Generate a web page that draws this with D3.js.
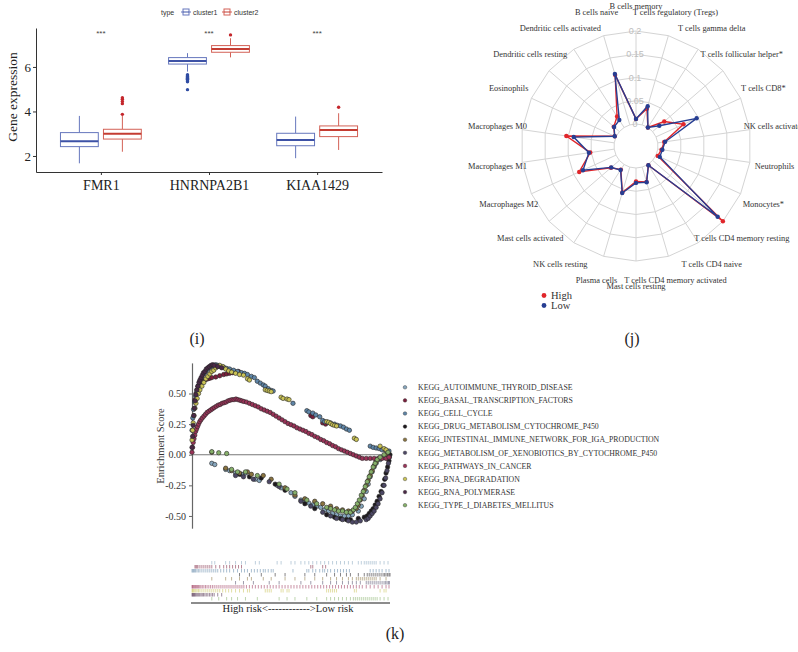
<!DOCTYPE html>
<html><head><meta charset="utf-8">
<script src="https://cdn.jsdelivr.net/npm/d3@7"></script>
<style>body{margin:0;background:#fff}svg{display:block}</style>
</head><body><svg id="fig" width="798" height="652"></svg>
<script>
// ---------- (i) boxplot data ----------
const genes = ["FMR1", "HNRNPA2B1", "KIAA1429"];
const clusters = ["cluster1", "cluster2"];
const c1Low = [1.67, 5.79, 1.90], c1Q1 = [2.42, 6.13, 2.46], c1Med = [2.66, 6.27, 2.72], c1Q3 = [3.05, 6.42, 3.02], c1High = [3.80, 6.62, 3.77];
const c2Low = [2.19, 6.43, 2.27], c2Q1 = [2.76, 6.66, 2.87], c2Med = [3.00, 6.81, 3.17], c2Q3 = [3.20, 6.96, 3.35], c2High = [3.80, 7.29, 3.92];
const c1Outliers = [[], [5.65, 5.61, 5.57, 5.53, 5.49, 5.45, 5.41, 5.37, 5.33, 4.98], []];
const c2Outliers = [[3.87, 4.35, 4.45, 4.55, 4.62], [7.44], [4.19]];
const sigLabels = ["***", "***", "***"];
const boxYTicks = [2, 4, 6];

// ---------- (j) radar data ----------
const cellTypes = ["B cells memory", "B cells naive", "Dendritic cells activated", "Dendritic cells resting", "Eosinophils",
  "Macrophages M0", "Macrophages M1", "Macrophages M2", "Mast cells activated", "NK cells resting", "Plasma cells",
  "Mast cells resting", "T cells CD4 memory activated", "T cells CD4 naive", "T cells CD4 memory resting", "Monocytes*",
  "Neutrophils", "NK cells activated", "T cells CD8*", "T cells follicular helper*", "T cells gamma delta", "T cells regulatory (Tregs)"];
const highRisk = [0.011, 0.112, 0.028, 0.016, 0.003, 0.104, 0.052, 0.087, 0.024, 0.013, 0.057, 0.029, 0.033, 0.002, 0.200, 0.004, 0.008, 0.014, 0.065, 0.033, 0.000, 0.036];
const lowRisk  = [0.011, 0.114, 0.019, 0.015, 0.003, 0.088, 0.055, 0.078, 0.023, 0.014, 0.058, 0.032, 0.034, 0.002, 0.185, 0.009, 0.010, 0.016, 0.096, 0.019, 0.000, 0.042];
const radarLevels = [0, 0.05, 0.1, 0.15, 0.2];
const radarLevelLabels = ["0", "0.05", "0.1", "0.15", "0.2"];

// ---------- (k) GSEA running enrichment scores: [rank %, ES] ----------
const pathways = ["KEGG_AUTOIMMUNE_THYROID_DISEASE", "KEGG_BASAL_TRANSCRIPTION_FACTORS", "KEGG_CELL_CYCLE",
  "KEGG_DRUG_METABOLISM_CYTOCHROME_P450", "KEGG_INTESTINAL_IMMUNE_NETWORK_FOR_IGA_PRODUCTION",
  "KEGG_METABOLISM_OF_XENOBIOTICS_BY_CYTOCHROME_P450", "KEGG_PATHWAYS_IN_CANCER", "KEGG_RNA_DEGRADATION",
  "KEGG_RNA_POLYMERASE", "KEGG_TYPE_I_DIABETES_MELLITUS"];
const pathwayColors = ["#86a6bd", "#7b1f3c", "#5f86a8", "#1e1a1e", "#8a7440", "#4d4866", "#9a3358", "#c9c255", "#4a2846", "#86b06a"];

const esAutoimmune = [[10,-0.07],[11.5,-0.08],[17,-0.12],[19,-0.13],[22,-0.15],[25,-0.16],[27,-0.15],[32,-0.2],[34,-0.21],[43,-0.25],[45,-0.27],[50,-0.31],[52,-0.34],[55,-0.37],[57,-0.38],[59,-0.395],[61,-0.41],[63,-0.42],[65,-0.43],[67,-0.45],[69,-0.46],[71,-0.48],[73,-0.49],[75,-0.5],[77,-0.5],[79,-0.5],[81,-0.49],[84,-0.46],[85.5,-0.42],[87,-0.36],[88,-0.3],[89,-0.24],[90,-0.18],[91,-0.14],[92,-0.1],[93,-0.07],[95,-0.04],[97,-0.02],[99,-0.01]];
const esBasal = [[1.5,0.45],[2,0.5],[2.5,0.53],[3,0.56],[4,0.58],[5,0.6],[6,0.61],[7,0.615],[8,0.62],[9,0.625],[10,0.63],[12,0.635],[14,0.645],[16,0.655],[17.5,0.66],[19,0.665],[20.5,0.67],[22,0.675],[23.5,0.68],[25,0.665],[60,0.32],[61,0.31],[66,0.26],[67.5,0.25]];
const esCellCycle = [[0,0.2],[0.4,0.3],[0.8,0.37],[1.3,0.43],[1.8,0.48],[2.5,0.52],[3.2,0.56],[4,0.6],[5,0.63],[6,0.66],[7,0.68],[8,0.7],[9,0.715],[10,0.725],[11,0.73],[12,0.735],[13,0.73],[14.5,0.72],[16,0.715],[17.5,0.705],[19,0.7],[21,0.69],[23,0.68],[25,0.67],[26.5,0.665],[28,0.655],[30,0.64],[31.5,0.63],[33,0.6],[34.5,0.585],[36,0.57],[37,0.56],[38.5,0.54],[40,0.525],[41,0.52],[51,0.42],[58,0.36],[59,0.35],[61,0.34],[62.5,0.325],[64.5,0.31],[66,0.28],[67,0.27],[68.5,0.265],[70,0.26],[72,0.25],[73.5,0.24],[75,0.235],[76.5,0.225],[78,0.21],[79.5,0.2],[90,0.07],[91.5,0.06],[93,0.055],[94.5,0.05],[96,0.04],[98,0.035],[99.5,0.03]];
const esDrugMetab = [[24,-0.16],[29,-0.18],[35,-0.19],[42,-0.24],[47,-0.29],[57,-0.4],[62,-0.44],[68,-0.49],[72,-0.51],[75,-0.52],[78,-0.53],[80,-0.53],[84,-0.52],[87,-0.51],[88.5,-0.5],[89.5,-0.48],[90.5,-0.46],[91.5,-0.44],[92.5,-0.41],[93.5,-0.38],[94.5,-0.34],[95.5,-0.3],[96.5,-0.25],[97.3,-0.2],[98,-0.15],[98.8,-0.1],[99.5,-0.05],[100,0]];
const esIntestinal = [[10,0.02],[17,-0.11],[20,-0.13],[24,-0.15],[28,-0.14],[30,-0.16],[36,-0.17],[40,-0.2],[47,-0.27],[52,-0.33],[57,-0.36],[62,-0.38],[66,-0.4],[70,-0.42],[73,-0.44],[76,-0.45],[79,-0.46],[81,-0.46],[83,-0.44],[84,-0.41],[85,-0.37],[86,-0.33],[87,-0.29],[88,-0.25],[89,-0.21],[90,-0.17],[91,-0.13],[92,-0.09],[93,-0.06],[95,-0.03],[98,0.0]];
const esXenobiotics = [[22,-0.17],[26,-0.18],[31,-0.2],[39,-0.22],[44,-0.26],[55,-0.38],[60,-0.42],[66,-0.47],[70,-0.5],[73,-0.52],[76,-0.53],[79,-0.54],[81,-0.55],[83,-0.55],[85,-0.54],[88,-0.53],[89,-0.52],[90,-0.5],[91,-0.48],[92,-0.46],[93,-0.43],[94,-0.4],[95,-0.36],[96,-0.31],[97,-0.25],[97.8,-0.19],[98.5,-0.13],[99.2,-0.07],[99.7,-0.02]];
const esCancer = [[0,0.02],[0.3,0.06],[0.6,0.1],[1,0.13],[1.4,0.16],[1.8,0.19],[2.3,0.21],[2.8,0.23],[3.3,0.25],[3.9,0.27],[4.5,0.285],[5.2,0.3],[6,0.315],[6.8,0.33],[7.6,0.345],[8.5,0.355],[9.4,0.365],[10.3,0.375],[11.2,0.385],[12.2,0.395],[13.2,0.405],[14.2,0.41],[15.2,0.42],[16.2,0.425],[17.2,0.43],[18.2,0.44],[19.2,0.445],[20.2,0.45],[21.2,0.45],[22.2,0.455],[23.2,0.45],[24.2,0.445],[25.2,0.44],[26.2,0.435],[27.5,0.43],[29,0.42],[30.5,0.41],[32,0.4],[33.5,0.39],[35,0.375],[36.5,0.365],[38,0.355],[39.5,0.345],[41,0.33],[42.5,0.315],[44,0.3],[45.5,0.285],[47,0.27],[48.5,0.255],[50,0.245],[51.5,0.235],[53,0.22],[54.5,0.21],[56,0.2],[57.5,0.19],[59,0.175],[60.5,0.165],[62,0.15],[63.5,0.14],[65,0.125],[66.5,0.115],[68,0.1],[69.5,0.09],[71,0.075],[72.5,0.065],[74,0.05],[75.5,0.04],[77,0.03],[78.5,0.02],[80,0.01],[81.5,0.0],[83,-0.01],[84.5,-0.02],[86,-0.03],[88,-0.03],[90,-0.03],[92,-0.03],[94,-0.03],[96,-0.03],[98,-0.03],[99.5,-0.02]];
const esRnaDegradation = [[0,0.12],[0.3,0.2],[0.6,0.26],[1,0.32],[1.5,0.38],[2,0.42],[2.6,0.46],[3.3,0.5],[4,0.53],[5,0.56],[6,0.59],[7,0.62],[8,0.64],[9,0.66],[10,0.68],[11,0.69],[12,0.71],[13,0.72],[14,0.73],[15.5,0.72],[17,0.7],[18.5,0.685],[20,0.675],[22,0.665],[24,0.655],[26,0.65],[28,0.62],[29,0.61],[37,0.53],[38,0.525],[39,0.52],[40,0.515],[45,0.47],[46,0.46],[48,0.455],[49,0.45],[68,0.27],[69,0.265],[70,0.255],[71,0.245],[72,0.24],[73,0.235],[82,0.135],[83,0.125],[95,0.07],[97,0.05],[98,0.04]];
const esRnaPolymerase = [[0,0.06],[0.3,0.15],[0.6,0.24],[0.9,0.32],[1.2,0.38],[1.6,0.44],[2,0.49],[2.5,0.53],[3,0.56],[3.5,0.59],[4,0.61],[4.6,0.63],[5.2,0.65],[5.8,0.67],[6.5,0.68],[7.2,0.7],[8,0.71],[8.8,0.72],[9.6,0.73],[10.4,0.735],[11.2,0.73],[13,0.72],[15,0.71]];
const esDiabetes = [[10,0.025],[13.5,0.016],[17.5,0.01],[20,-0.12],[23,-0.14],[27,-0.14],[33,-0.17],[44,-0.24],[48,-0.28],[52,-0.31],[58,-0.37],[63,-0.4],[68,-0.43],[70,-0.44],[72,-0.45],[74,-0.46],[76,-0.46],[78,-0.47],[80,-0.47],[81.5,-0.45],[82.5,-0.43],[83.5,-0.4],[84.5,-0.37],[85.5,-0.33],[86.5,-0.3],[87.5,-0.26],[88.5,-0.22],[89.5,-0.18],[90.5,-0.14],[91.5,-0.1],[92.5,-0.07],[93.5,-0.04],[95,-0.02],[97,0.0],[99,0.02]];
const esSeries = [esAutoimmune, esBasal, esCellCycle, esDrugMetab, esIntestinal, esXenobiotics, esCancer, esRnaDegradation, esRnaPolymerase, esDiabetes];
const esTicks = [-0.5, -0.25, 0, 0.25, 0.5];

const svg = d3.select("#fig");
const serif = "'Liberation Serif', 'Times New Roman', serif";
const sans = "'Liberation Sans', Arial, sans-serif";

// ================= (i) grouped boxplot =================
(function () {
  const g = svg.append("g");
  const x = d3.scalePoint().domain(genes).range([36, 382]).padding(0.6);
  const sub = d3.scaleBand().domain(clusters).range([-43, 43]);
  const y = d3.scaleLinear().domain([1.28, 7.75]).range([172, 28]);
  const stroke = { cluster1: "#6677bd", cluster2: "#d36156" };
  const medStroke = { cluster1: "#3d52a6", cluster2: "#c43d33" };
  const dotFill = { cluster1: "#2f4ca3", cluster2: "#c4262c" };

  const stats = [];
  genes.forEach((gn, i) => {
    stats.push({ gene: gn, cl: "cluster1", lo: c1Low[i], q1: c1Q1[i], med: c1Med[i], q3: c1Q3[i], hi: c1High[i], out: c1Outliers[i] });
    stats.push({ gene: gn, cl: "cluster2", lo: c2Low[i], q1: c2Q1[i], med: c2Med[i], q3: c2Q3[i], hi: c2High[i], out: c2Outliers[i] });
  });
  const bw = sub.bandwidth() * 0.88;
  const cx = d => x(d.gene) + sub(d.cl) + sub.bandwidth() / 2;

  const bx = g.selectAll("g.box").data(stats).join("g");
  bx.append("line").attr("x1", cx).attr("x2", cx).attr("y1", d => y(d.hi)).attr("y2", d => y(d.q3))
    .attr("stroke", d => stroke[d.cl]).attr("stroke-width", 1);
  bx.append("line").attr("x1", cx).attr("x2", cx).attr("y1", d => y(d.q1)).attr("y2", d => y(d.lo))
    .attr("stroke", d => stroke[d.cl]).attr("stroke-width", 1);
  bx.append("rect").attr("x", d => cx(d) - bw / 2).attr("width", bw)
    .attr("y", d => y(d.q3)).attr("height", d => y(d.q1) - y(d.q3))
    .attr("fill", "#fff").attr("stroke", d => stroke[d.cl]).attr("stroke-width", 1);
  bx.append("line").attr("x1", d => cx(d) - bw / 2).attr("x2", d => cx(d) + bw / 2)
    .attr("y1", d => y(d.med)).attr("y2", d => y(d.med))
    .attr("stroke", d => medStroke[d.cl]).attr("stroke-width", 2);
  bx.each(function (d) {
    d3.select(this).selectAll("circle").data(d.out).join("circle")
      .attr("cx", cx(d)).attr("cy", v => y(v)).attr("r", 1.7).attr("fill", dotFill[d.cl]);
  });

  g.selectAll("text.sig").data(genes).join("text")
    .attr("x", d => x(d)).attr("y", 36).attr("text-anchor", "middle")
    .attr("font-family", sans).attr("font-size", 8).attr("fill", "#444")
    .text((d, i) => sigLabels[i]);

  const ya = g.append("g").attr("transform", "translate(36,0)")
    .call(d3.axisLeft(y).tickValues(boxYTicks).tickSize(3).tickSizeOuter(0).tickFormat(d3.format("d")));
  ya.select(".domain").attr("stroke", "#333");
  ya.selectAll(".tick line").attr("stroke", "#333");
  ya.selectAll(".tick text").attr("font-family", serif).attr("font-size", 13).attr("fill", "#222").attr("x", -5);
  const xa = g.append("g").attr("transform", "translate(0,172)")
    .call(d3.axisBottom(x).tickSize(3).tickSizeOuter(0));
  xa.select(".domain").attr("stroke", "#333");
  xa.selectAll(".tick line").attr("stroke", "#333");
  xa.selectAll(".tick text").attr("font-family", serif).attr("font-size", 14).attr("fill", "#222").attr("y", 8);

  g.append("text").attr("transform", "translate(17,97) rotate(-90)").attr("text-anchor", "middle")
    .attr("font-family", serif).attr("font-size", 13.5).attr("fill", "#222").text("Gene expression");

  // legend
  const lg = g.append("g");
  lg.append("text").attr("x", 161).attr("y", 15).attr("font-family", sans).attr("font-size", 7).attr("fill", "#333").text("type");
  const lx = [181, 222];
  clusters.forEach((c, i) => {
    const k = lg.append("g").attr("transform", `translate(${lx[i]},8)`);
    k.append("line").attr("x1", 0).attr("x2", 2).attr("y1", 4).attr("y2", 4).attr("stroke", stroke[c]);
    k.append("line").attr("x1", 8).attr("x2", 10).attr("y1", 4).attr("y2", 4).attr("stroke", stroke[c]);
    k.append("rect").attr("x", 2).attr("y", 1).attr("width", 6).attr("height", 6).attr("fill", "#fff").attr("stroke", stroke[c]);
    k.append("line").attr("x1", 2).attr("x2", 8).attr("y1", 4).attr("y2", 4).attr("stroke", medStroke[c]);
    lg.append("text").attr("x", lx[i] + 12).attr("y", 15).attr("font-family", sans).attr("font-size", 7).attr("fill", "#333").text(c);
  });
})();

// ================= (j) radar =================
(function () {
  const cx = 636, cy = 146;
  const g = svg.append("g").attr("transform", `translate(${cx},${cy})`);
  const n = cellTypes.length, step = 2 * Math.PI / n;
  const r = d3.scaleLinear().domain([0, 0.2]).range([22, 115]);
  const ang = i => -i * step;
  const ring = d3.lineRadial().angle((d, i) => ang(i)).radius(d => d).curve(d3.curveLinearClosed);

  radarLevels.forEach(lv => {
    g.append("path").attr("d", ring(cellTypes.map(() => r(lv)))).attr("fill", "none").attr("stroke", "#d4d4d4").attr("stroke-width", 1);
  });
  cellTypes.forEach((c, i) => {
    const a = ang(i);
    g.append("line").attr("x1", r(0) * Math.sin(a)).attr("y1", -r(0) * Math.cos(a))
      .attr("x2", r(0.2) * Math.sin(a)).attr("y2", -r(0.2) * Math.cos(a)).attr("stroke", "#d4d4d4");
  });
  radarLevels.forEach((lv, i) => {
    g.append("text").attr("x", -1).attr("y", -r(lv)).attr("dy", "0.35em").attr("text-anchor", "middle")
      .attr("font-family", sans).attr("font-size", 9).attr("fill", "#bdbdbd").text(radarLevelLabels[i]);
  });
  cellTypes.forEach((c, i) => {
    const a = ang(i), lr = 140;
    g.append("text").attr("x", lr * Math.sin(a)).attr("y", -lr * Math.cos(a)).attr("dy", "0.35em")
      .attr("text-anchor", "middle").attr("font-family", serif).attr("font-size", 8.4).attr("fill", "#333").text(c);
  });

  const series = [{ vals: highRisk, col: "#e0262b" }, { vals: lowRisk, col: "#273e92" }];
  const line = d3.lineRadial().angle((d, i) => ang(i)).radius(d => r(d)).curve(d3.curveLinearClosed);
  series.forEach(s => {
    g.append("path").attr("d", line(s.vals)).attr("fill", "none").attr("stroke", s.col).attr("stroke-width", 1.4);
    g.selectAll(null).data(s.vals).join("circle")
      .attr("cx", (d, i) => r(d) * Math.sin(ang(i))).attr("cy", (d, i) => -r(d) * Math.cos(ang(i)))
      .attr("r", 2.2).attr("fill", s.col);
  });

  const lg = svg.append("g");
  [["High", "#e0262b"], ["Low", "#273e92"]].forEach((e, i) => {
    lg.append("circle").attr("cx", 544).attr("cy", 295.5 + i * 10).attr("r", 2.4).attr("fill", e[1]);
    lg.append("text").attr("x", 551).attr("y", 295.5 + i * 10).attr("dy", "0.33em").attr("font-family", serif)
      .attr("font-size", 10.5).attr("fill", "#333").text(e[0]);
  });
})();

// ================= (k) GSEA =================
(function () {
  const g = svg.append("g");
  const x = d3.scaleLinear().domain([0, 100]).range([192, 390]);
  const y = d3.scaleLinear().domain([-0.6, 0.75]).range([528.2, 362.9]);

  g.append("line").attr("x1", x(0)).attr("x2", x(100)).attr("y1", y(0)).attr("y2", y(0)).attr("stroke", "#777").attr("stroke-width", 1.2);
  const ya = g.append("g").attr("transform", `translate(${x(0)},0)`)
    .call(d3.axisLeft(y).tickValues(esTicks).tickSize(3).tickSizeOuter(0).tickFormat(d => d.toFixed(2)));
  ya.select(".domain").attr("stroke", "#666").attr("stroke-width", 1.2);
  ya.selectAll(".tick line").attr("stroke", "#666");
  ya.selectAll(".tick text").attr("font-family", serif).attr("font-size", 10).attr("fill", "#333");
  g.append("text").attr("transform", "translate(164,446) rotate(-90)").attr("text-anchor", "middle")
    .attr("font-family", serif).attr("font-size", 10.5).attr("fill", "#333").text("Enrichment Score");

  esSeries.forEach((pts, k) => {
    g.append("g").selectAll("circle").data(pts).join("circle")
      .attr("cx", d => x(d[0])).attr("cy", d => y(d[1])).attr("r", 2.2)
      .attr("fill", pathwayColors[k]).attr("stroke", "#262626").attr("stroke-width", 0.6);
  });

  // legend
  pathways.forEach((p, k) => {
    const yy = 387.3 + k * 13.1;
    g.append("circle").attr("cx", 405).attr("cy", yy).attr("r", 1.8).attr("fill", pathwayColors[k]).attr("stroke", "#333").attr("stroke-width", 0.4);
    g.append("text").attr("x", 418).attr("y", yy).attr("dy", "0.35em").attr("font-family", serif)
      .attr("font-size", 7.8).attr("fill", "#333").text(p);
  });

  // hit strip
  const rowH = 4, top = 561;
  esSeries.forEach((pts, k) => {
    g.append("g").selectAll("line").data(pts).join("line")
      .attr("x1", d => x(d[0])).attr("x2", d => x(d[0]))
      .attr("y1", top + k * rowH).attr("y2", top + k * rowH + rowH - 0.5)
      .attr("stroke", pathwayColors[k]).attr("stroke-opacity", 0.6).attr("stroke-width", 0.9);
  });
  g.append("line").attr("x1", 191).attr("x2", 390).attr("y1", 603).attr("y2", 603).attr("stroke", "#666").attr("stroke-width", 1.4);
  g.append("text").attr("x", 288).attr("y", 608).attr("dy", "0.35em").attr("text-anchor", "middle")
    .attr("font-family", serif).attr("font-size", 10.5).attr("fill", "#222").text("High risk<------------>Low risk");
})();

// panel tags
[["(i)", 197, 338], ["(j)", 632, 338], ["(k)", 395, 633]].forEach(t => {
  svg.append("text").attr("x", t[1]).attr("y", t[2]).attr("dy", "0.35em").attr("text-anchor", "middle")
    .attr("font-family", serif).attr("font-size", 16).attr("fill", "#222").text(t[0]);
});
</script></body></html>
